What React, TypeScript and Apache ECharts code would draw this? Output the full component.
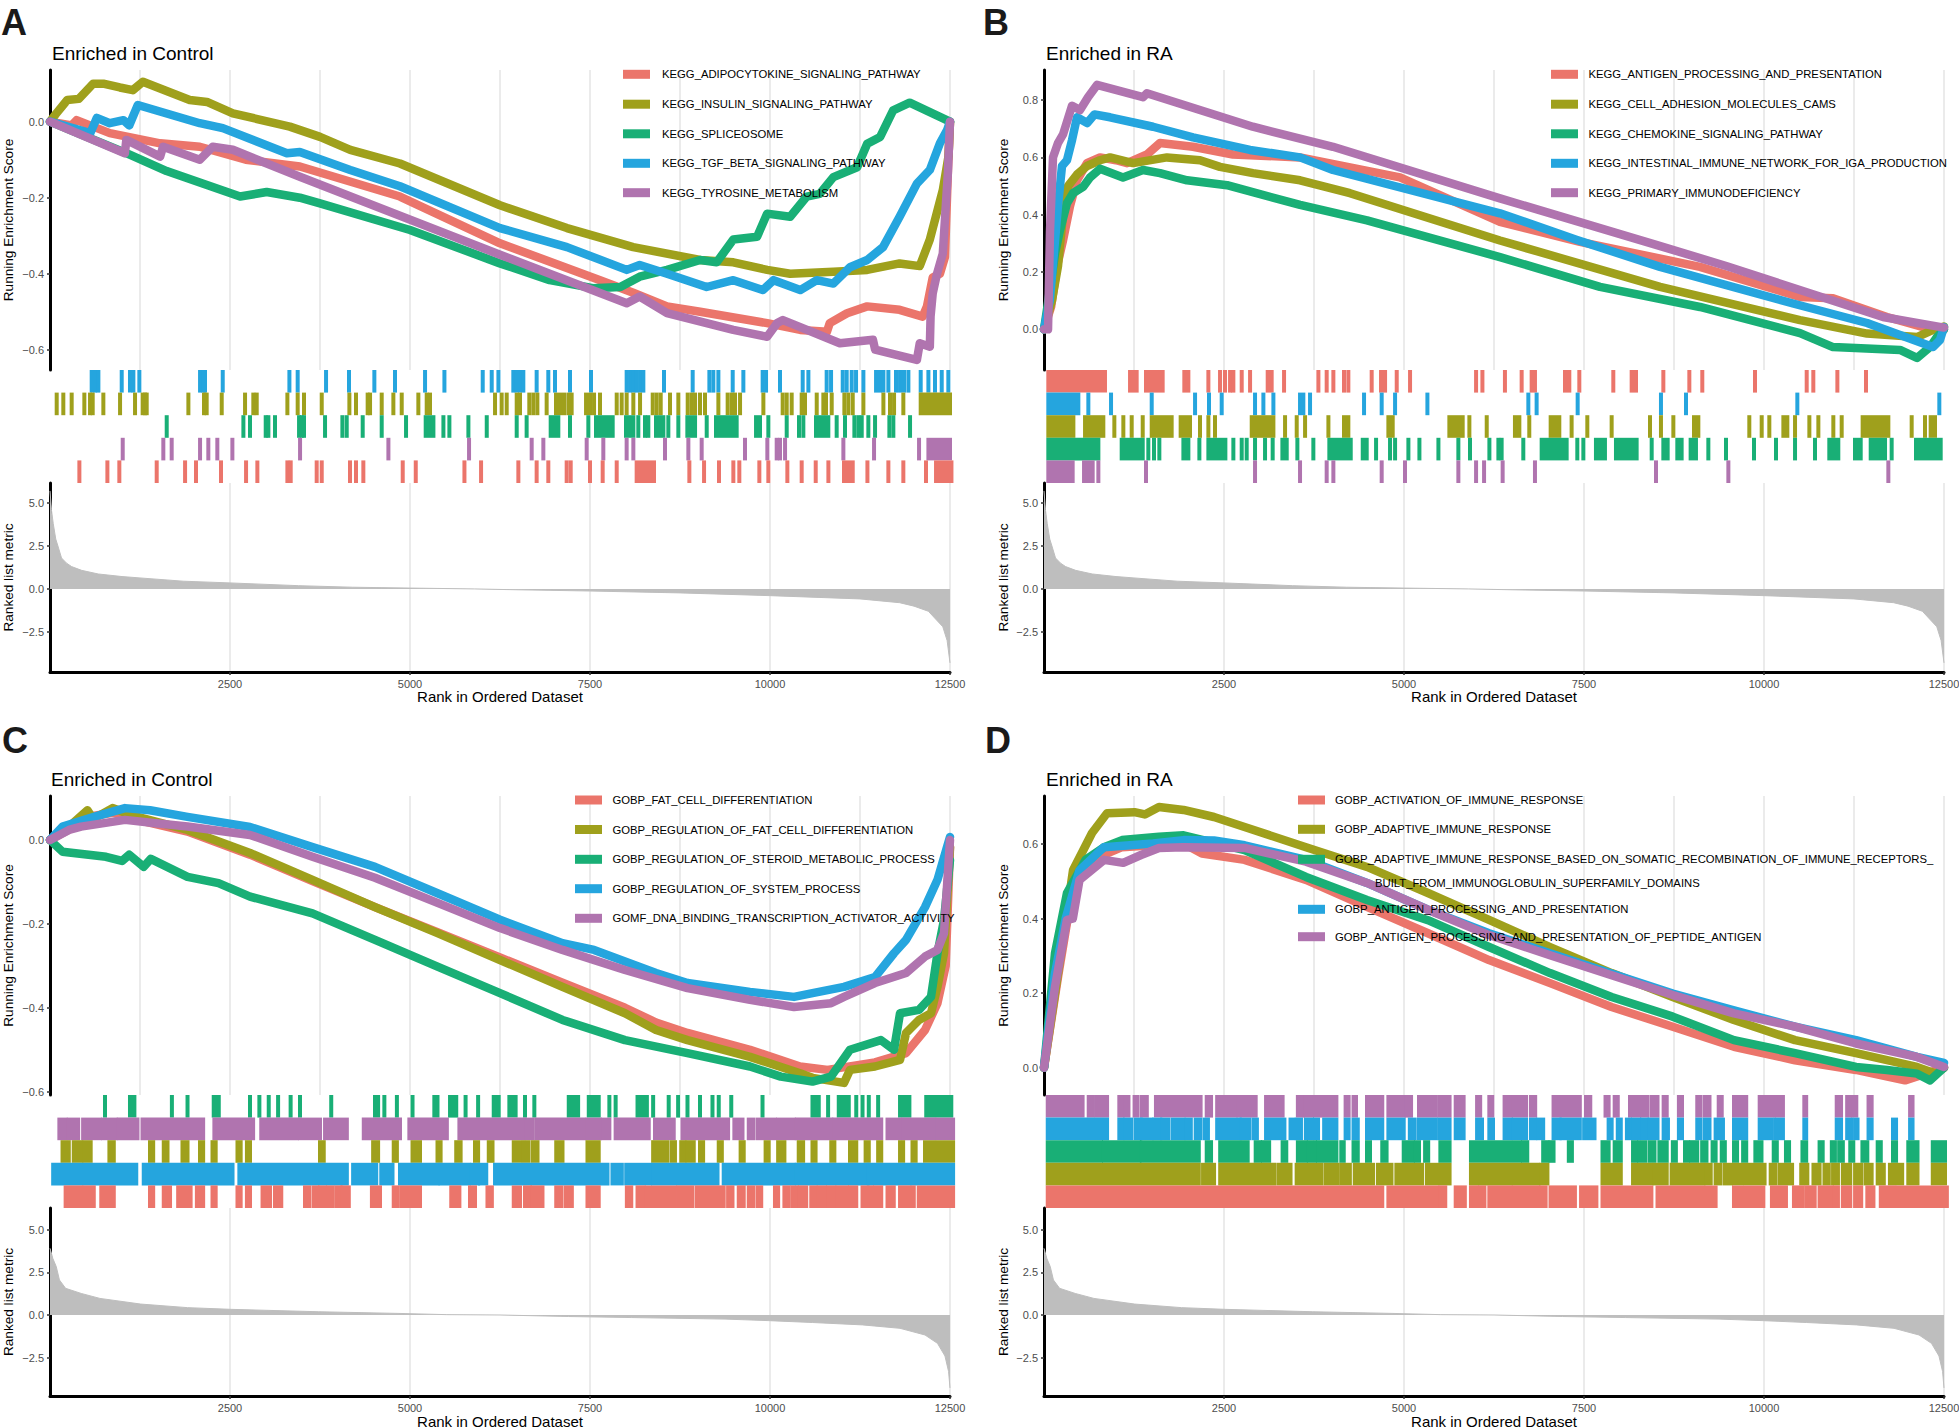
import React, { useEffect, useRef } from "react";
import * as echarts from "echarts";

type Pt = [number, number];
type Hit = number | [number, number];

const FONT = "'Liberation Sans', Arial, Helvetica, sans-serif";
const GENE_COLORS = ["#EB756B", "#9FA01C", "#19AF76", "#25A5DE", "#B074AF"];
const X_LABELS = [2500, 5000, 7500, 10000, 12500];
const RANK_MAX = 12500;
const GRID_STEP = 1250;
const RANK_TICKS = [-2.5, 0, 2.5, 5];

// ---------------- Ranked list metric ----------------
const RANKED_AB: Pt[] = [[0,5.7],[20,4.6],[45,3.8],[80,2.9],[110,2.5],[160,1.8],[230,1.5],[300,1.3],[440,1.08],[670,0.87],[1000,0.72],[1250,0.64],[1850,0.45],[2500,0.35],[3450,0.19],[4200,0.1],[5000,0.05],[5900,0],[6500,-0.05],[7500,-0.12],[8750,-0.23],[10000,-0.39],[11250,-0.58],[11800,-0.8],[12000,-1.0],[12200,-1.3],[12400,-2.2],[12460,-3.0],[12500,-4.3]];
const RANKED_CD: Pt[] = [[0,3.9],[40,3.3],[87,2.83],[131,2.05],[217,1.56],[434,1.26],[694,0.97],[1259,0.64],[1910,0.43],[2517,0.33],[3733,0.19],[4861,0.09],[5512,0.02],[6250,0],[7205,-0.09],[8073,-0.15],[9375,-0.24],[9982,-0.33],[10590,-0.44],[11285,-0.58],[11806,-0.78],[12153,-1.17],[12326,-1.66],[12430,-2.4],[12480,-3.3],[12500,-4.27]];

// ---------------- Panel A ----------------
const A_TITLE = "Enriched in Control";
const A_NAMES = ["KEGG_ADIPOCYTOKINE_SIGNALING_PATHWAY","KEGG_INSULIN_SIGNALING_PATHWAY","KEGG_SPLICEOSOME","KEGG_TGF_BETA_SIGNALING_PATHWAY","KEGG_TYROSINE_METABOLISM"];
const A_Y_TICKS = [-0.6, -0.4, -0.2, 0];
const A_ES_RED: Pt[] = [[0,0],[300,-0.01],[370,0.004],[830,-0.03],[1530,-0.057],[2080,-0.066],[2720,-0.1],[3470,-0.118],[4860,-0.197],[6250,-0.32],[7640,-0.417],[8100,-0.45],[8570,-0.486],[9030,-0.5],[9960,-0.53],[10420,-0.548],[10790,-0.553],[10830,-0.53],[11070,-0.504],[11350,-0.486],[11800,-0.495],[12120,-0.513],[12180,-0.486],[12260,-0.41],[12360,-0.4],[12430,-0.356],[12470,-0.136],[12500,0]];
const A_ES_OLIVE: Pt[] = [[0,0],[80,0.02],[240,0.057],[400,0.06],[600,0.1],[740,0.1],[970,0.09],[1150,0.083],[1290,0.105],[1940,0.057],[2180,0.052],[2540,0.022],[3330,-0.013],[3750,-0.04],[4170,-0.074],[4860,-0.11],[6250,-0.22],[7180,-0.28],[8100,-0.33],[9030,-0.364],[9490,-0.37],[9960,-0.39],[10280,-0.4],[10880,-0.395],[11350,-0.39],[11800,-0.373],[12080,-0.38],[12220,-0.31],[12400,-0.18],[12480,-0.09],[12500,0]];
const A_ES_GREEN: Pt[] = [[0,0],[1060,-0.083],[1620,-0.13],[2640,-0.197],[3010,-0.185],[3470,-0.2],[3750,-0.215],[5000,-0.285],[6250,-0.373],[6940,-0.417],[7540,-0.438],[7920,-0.435],[8190,-0.408],[8570,-0.39],[9030,-0.364],[9260,-0.37],[9490,-0.31],[9820,-0.303],[9960,-0.242],[10280,-0.25],[10510,-0.197],[10690,-0.19],[10880,-0.146],[11210,-0.12],[11350,-0.058],[11530,-0.04],[11710,0.03],[11940,0.05],[12500,0]];
const A_ES_BLUE: Pt[] = [[0,0],[560,-0.03],[650,0.01],[830,-0.004],[1020,0.004],[1100,-0.01],[1220,0.044],[2080,-0.004],[2400,-0.017],[3290,-0.083],[3470,-0.08],[4170,-0.127],[4860,-0.17],[6250,-0.28],[7180,-0.33],[8010,-0.39],[8190,-0.377],[8570,-0.4],[9120,-0.435],[9490,-0.417],[9900,-0.443],[10050,-0.417],[10420,-0.443],[10650,-0.417],[10880,-0.426],[11110,-0.383],[11350,-0.364],[11570,-0.33],[11800,-0.25],[12040,-0.163],[12220,-0.127],[12360,-0.057],[12460,-0.022],[12500,0]];
const A_ES_PURPLE: Pt[] = [[0,0],[1040,-0.083],[1060,-0.048],[1530,-0.092],[1570,-0.066],[2080,-0.1],[2260,-0.066],[2540,-0.074],[3470,-0.145],[6250,-0.35],[8010,-0.478],[8190,-0.46],[8570,-0.504],[9490,-0.548],[9960,-0.566],[10100,-0.53],[10180,-0.522],[10970,-0.583],[11430,-0.574],[11460,-0.6],[12040,-0.627],[12080,-0.583],[12220,-0.592],[12230,-0.513],[12260,-0.452],[12320,-0.4],[12400,-0.347],[12470,-0.136],[12500,0]];
const A_HIT_RED: Hit[] = [408,797,963,1482,1876,2028,2375,2723,2880,3297,3343,3704,3774,4167,4250,4352,4899,5080,5756,5987,6505,6759,6921,7176,7232,7500,7676,7871,[8148,8389],8880,9084,9292,9491,9574,9852,9977,10241,10440,10635,10811,[11028,11149],11353,11644,11852,12167,[12306,12520]];
const A_HIT_OLIVE: Hit[] = [93,185,301,477,556,593,741,973,1181,1287,1320,1343,1922,2139,2176,2385,2709,2824,2871,3297,3440,3528,3774,4158,4250,4412,4445,4607,4769,4885,5116,5232,5278,6181,6273,6343,6482,6528,6657,6713,6769,6898,7028,7083,7139,7199,7245,7445,7500,7556,7639,7871,7940,8009,8102,8195,8371,8426,8482,8611,8727,8857,8912,8959,9028,9097,9283,9412,9468,9514,9584,9908,10176,10232,10301,10440,10486,10649,10741,10778,10857,11033,11088,11149,11297,11575,11667,11723,11852,[12093,12500]];
const A_HIT_GREEN: Hit[] = [1621,2686,2778,2996,3033,3125,3459,3496,3528,3820,4061,4121,4343,4607,4945,[5218,5325],5464,5547,5811,6066,6482,6620,[6954,7060],7222,7477,[7583,7815],[8000,8102],8171,8264,8310,[8417,8519],8588,8727,[8852,8959],9121,[9250,9537],[9806,9861],9977,10232,10403,10463,[10639,10810],10926,11042,11172,11227,11274,11366,11459,11658,11713,11945];
const A_HIT_BLUE: Hit[] = [579,625,672,996,1111,1158,1241,2084,2130,2153,2399,3325,3440,3834,4153,4505,4792,5209,5478,6010,6135,6228,6435,6482,6528,6574,6759,6921,7014,7222,7514,8009,8056,8102,8148,8195,8241,8528,8926,9158,9213,9283,9482,9630,9898,9945,10139,10454,10533,10787,10848,11010,11065,11135,11195,11297,11473,11528,11575,11644,11750,11806,11861,11922,12093,12200,12292,12385,12477];
const A_HIT_PURPLE: Hit[] = [1010,1574,1690,2084,2199,2324,2533,3473,4700,5820,6690,6852,7454,7685,8009,8102,8542,8866,9051,9653,9963,10093,10139,10209,11019,11445,12070,[12200,12500]];

// ---------------- Panel B ----------------
const B_TITLE = "Enriched in RA";
const B_NAMES = ["KEGG_ANTIGEN_PROCESSING_AND_PRESENTATION","KEGG_CELL_ADHESION_MOLECULES_CAMS","KEGG_CHEMOKINE_SIGNALING_PATHWAY","KEGG_INTESTINAL_IMMUNE_NETWORK_FOR_IGA_PRODUCTION","KEGG_PRIMARY_IMMUNODEFICIENCY"];
const B_Y_TICKS = [0, 0.2, 0.4, 0.6, 0.8];
const B_ES_RED: Pt[] = [[0,0],[100,0.08],[181,0.22],[264,0.31],[361,0.43],[458,0.52],[597,0.58],[778,0.6],[1000,0.59],[1153,0.58],[1430,0.61],[1611,0.65],[2069,0.637],[2625,0.61],[3556,0.6],[4944,0.53],[6333,0.375],[7444,0.305],[9111,0.218],[10500,0.113],[10958,0.108],[11708,0.043],[12347,-0.002],[12500,0]];
const B_ES_OLIVE: Pt[] = [[0,0],[110,0.1],[194,0.22],[264,0.4],[333,0.5],[458,0.54],[597,0.57],[778,0.59],[917,0.6],[1236,0.58],[1708,0.6],[2167,0.59],[2444,0.567],[2903,0.545],[3556,0.52],[4250,0.475],[6333,0.31],[8556,0.148],[10500,0.032],[11431,-0.015],[12125,-0.027],[12347,-0.002],[12500,0.01]];
const B_ES_GREEN: Pt[] = [[0,0],[60,0.1],[153,0.265],[222,0.346],[319,0.44],[403,0.475],[542,0.497],[639,0.53],[778,0.56],[1097,0.53],[1375,0.556],[1611,0.545],[1986,0.52],[2542,0.503],[3556,0.434],[4486,0.38],[6333,0.252],[7722,0.148],[9111,0.078],[10500,-0.013],[10958,-0.062],[11889,-0.072],[12125,-0.1],[12306,-0.062],[12403,-0.027],[12500,0]];
const B_ES_BLUE: Pt[] = [[0,0],[80,0.1],[153,0.31],[194,0.43],[250,0.57],[319,0.59],[389,0.66],[458,0.74],[600,0.72],[700,0.75],[917,0.74],[1514,0.707],[2069,0.67],[2861,0.626],[3556,0.6],[4014,0.556],[6333,0.405],[7403,0.312],[8556,0.218],[10403,0.09],[11431,0.022],[12347,-0.062],[12444,-0.037],[12500,0.008]];
const B_ES_PURPLE: Pt[] = [[0,0],[56,0],[83,0.34],[125,0.6],[194,0.65],[264,0.68],[389,0.78],[500,0.765],[611,0.81],[736,0.853],[1375,0.81],[1430,0.824],[2900,0.707],[4014,0.637],[6333,0.457],[8514,0.294],[9486,0.22],[11653,0.043],[12500,0.006]];
const B_HIT_RED: Hit[] = [[60,847],[1195,1287],[1417,1648],[1949,2005],2283,2445,2514,2584,2630,2746,2862,[3107,3162],3334,3811,3926,4019,4167,4227,4551,[4681,4737],4899,5084,6001,6089,6402,6634,[6773,6819],[7236,7296],7435,7907,[8162,8222],8602,8963,9143,9875,10593,10685,11019,11417];
const B_HIT_OLIVE: Hit[] = [[60,408],[570,824],977,1102,1218,1371,[1496,1773],[1898,2028],2167,2283,2375,[2885,3186],3348,3510,3626,3950,[4167,4227],[4783,4843],[5630,5815],5908,6149,[6541,6602],6740,[7037,7157],7328,7546,7884,8417,8569,8741,[9028,9088],9796,9968,10074,[10269,10324],10431,10630,10755,10963,11079,[11370,11727],12051,12236,[12315,12375]];
const B_HIT_GREEN: Hit[] = [[60,755],[1079,1371],1449,1528,1602,[1936,2005],2158,[2283,2519],2630,2746,2815,2931,3070,3176,[3311,3371],3519,3741,[3963,4260],[4427,4482],4612,4806,4876,5061,5214,5478,5755,5917,6186,6311,6356,6657,[6912,7259],7407,7491,[7666,7791],[7944,8231],8440,[8602,8662],[8796,8856],[8981,9055],9227,9472,9861,10167,10431,10708,[10907,11032],[11264,11343],[11482,11681],11773,[12111,12454]];
const B_HIT_BLUE: Hit[] = [[60,477],616,931,1496,2098,2292,2468,2931,3047,3186,[3556,3602],3695,4445,4690,4876,5325,6727,6842,7412,8569,8917,10463,12435];
const B_HIT_PURPLE: Hit[] = [[60,398],[556,676],755,1417,2931,3556,3926,4019,4690,5014,5755,6001,6112,6370,6819,8500,9505,11727];

// ---------------- Panel C ----------------
const C_TITLE = "Enriched in Control";
const C_NAMES = ["GOBP_FAT_CELL_DIFFERENTIATION","GOBP_REGULATION_OF_FAT_CELL_DIFFERENTIATION","GOBP_REGULATION_OF_STEROID_METABOLIC_PROCESS","GOBP_REGULATION_OF_SYSTEM_PROCESS","GOMF_DNA_BINDING_TRANSCRIPTION_ACTIVATOR_ACTIVITY"];
const C_Y_TICKS = [-0.6, -0.4, -0.2, 0];
const C_ES_RED: Pt[] = [[0,0],[264,0.025],[521,0.055],[868,0.065],[1215,0.048],[1910,0.02],[2778,-0.035],[3646,-0.098],[4514,-0.16],[5382,-0.22],[6250,-0.28],[7118,-0.34],[7986,-0.4],[8417,-0.435],[8854,-0.46],[9722,-0.5],[10417,-0.54],[10800,-0.548],[11458,-0.53],[11889,-0.508],[12153,-0.453],[12326,-0.389],[12440,-0.3],[12500,-0.017]];
const C_ES_OLIVE: Pt[] = [[0,0],[264,0.032],[521,0.071],[600,0.05],[868,0.076],[1215,0.055],[1910,0.024],[2778,-0.031],[3646,-0.095],[4514,-0.16],[5382,-0.222],[6250,-0.286],[7118,-0.35],[7986,-0.413],[8417,-0.453],[8854,-0.477],[9722,-0.517],[10417,-0.556],[10590,-0.567],[11028,-0.579],[11111,-0.548],[11458,-0.54],[11806,-0.524],[11889,-0.46],[12069,-0.429],[12236,-0.413],[12326,-0.35],[12417,-0.27],[12500,-0.017]];
const C_ES_GREEN: Pt[] = [[0,0],[174,-0.028],[778,-0.04],[1000,-0.05],[1100,-0.035],[1300,-0.064],[1400,-0.045],[1910,-0.088],[2340,-0.103],[2778,-0.135],[3646,-0.175],[4514,-0.238],[5382,-0.302],[6250,-0.365],[7118,-0.429],[7986,-0.477],[8854,-0.508],[9722,-0.54],[10150,-0.564],[10590,-0.576],[10847,-0.564],[11111,-0.5],[11540,-0.477],[11722,-0.5],[11806,-0.413],[12069,-0.405],[12236,-0.374],[12326,-0.27],[12417,-0.19],[12500,-0.048]];
const C_ES_BLUE: Pt[] = [[0,0],[174,0.032],[611,0.055],[1042,0.076],[1389,0.071],[1910,0.055],[2778,0.031],[3646,-0.017],[4514,-0.064],[5382,-0.127],[6250,-0.19],[7118,-0.246],[7556,-0.262],[8417,-0.317],[8854,-0.341],[9722,-0.362],[10333,-0.374],[10590,-0.365],[11028,-0.35],[11458,-0.327],[11722,-0.27],[11889,-0.238],[12153,-0.16],[12326,-0.095],[12458,-0.017],[12500,0.007]];
const C_ES_PURPLE: Pt[] = [[0,0],[264,0.024],[431,0.032],[1042,0.048],[1472,0.04],[1910,0.032],[2778,0.012],[3646,-0.04],[4514,-0.09],[5382,-0.15],[6250,-0.21],[7118,-0.262],[7986,-0.31],[8854,-0.353],[9722,-0.381],[10333,-0.398],[10847,-0.389],[11028,-0.374],[11458,-0.341],[11889,-0.317],[12153,-0.278],[12326,-0.262],[12417,-0.222],[12500,0]];
const C_HIT_RED: Hit[] = [[217,434],[478,608],[712,886],[1389,1433],[1580,1667],[1780,1953],[2040,2127],[2257,2301],[2604,2648],[2735,2778],[2952,3056],[3125,3212],[3542,3603],[3663,3715],[3750,3820],[3863,3924],[3976,4037],[4063,4150],[4471,4583],[4774,4826],[4878,5139],[5573,5686],[5833,5903],[6076,6137],[6441,6528],[6597,6667],[6701,6840],[7031,7101],[7161,7248],[7465,7621],[8012,8073],[8160,8246],[8290,8680],[8724,8923],[8984,9357],[9418,9479],[9566,9635],[9705,9766],[9826,9878],[10069,10113],[10200,10260],[10312,10373],[10416,10503],[10573,10633],[10677,10764],[10807,10894],[10937,11068],[11111,11198],[11285,11415],[11458,11545],[11632,11719],[11806,11997],[12066,12543]];
const C_HIT_OLIVE: Hit[] = [[174,261],[330,434],[478,565],[825,886],[1389,1433],[1580,1632],[1840,1910],[2083,2127],[2257,2301],[2604,2648],[2735,2778],[3750,3802],[4488,4557],[4774,4818],[5035,5139],[5382,5425],[5642,5703],[5903,5946],[6094,6146],[6441,6528],[6580,6641],[6701,6771],[7031,7118],[7465,7621],[8377,8577],[8637,8680],[8767,8811],[8854,8941],[9028,9071],[9288,9331],[9592,9635],[9939,9982],[10113,10200],[10399,10460],[10590,10633],[10851,10894],[11111,11198],[11328,11372],[11502,11545],[11806,11849],[11979,12023],[12153,12543]];
const C_HIT_GREEN: Hit[] = [764,[1111,1172],1693,1910,[2274,2344],2778,2908,3038,3168,3342,3472,3906,[4514,4557],4644,4818,5035,[5338,5382],[5556,5642],5772,5946,[6163,6232],[6380,6467],6597,6727,[7205,7335],[7483,7621],7769,7856,[8160,8290],8377,8593,8724,8854,9028,9201,9288,9462,9896,[10590,10677],10807,[10955,11094],11198,11285,11372,11502,[11806,11936],[12170,12518]];
const C_HIT_BLUE: Hit[] = [[44,1198],[1302,2535],[2630,4123],[4210,4531],[4601,4757],[4861,5382],[5425,5816],[5859,5946],[5972,6059],[6181,7743],[7812,7942],[8003,8333],[8377,9271],[9357,10330],[10373,11354],[11372,11936],[11979,12543]];
const C_HIT_PURPLE: Hit[] = [[130,217],[261,391],[460,694],[738,912],[955,1215],[1285,2127],[2283,2821],[2934,3429],[3472,3750],[3820,4123],[4358,4861],[4991,5512],[5686,6580],[6623,6701],[6753,7422],[7465,7639],[7682,7769],[7856,8316],[8403,8663],[8784,9418],[9505,9618],[9705,9766],[9826,10069],[10113,10330],[10373,10851],[10894,11545],[11632,11806],[11849,12283],[12326,12543]];

// ---------------- Panel D ----------------
const D_TITLE = "Enriched in RA";
const D_NAMES = ["GOBP_ACTIVATION_OF_IMMUNE_RESPONSE","GOBP_ADAPTIVE_IMMUNE_RESPONSE","GOBP_ADAPTIVE_IMMUNE_RESPONSE_BASED_ON_SOMATIC_RECOMBINATION_OF_IMMUNE_RECEPTORS_\nBUILT_FROM_IMMUNOGLOBULIN_SUPERFAMILY_DOMAINS","GOBP_ANTIGEN_PROCESSING_AND_PRESENTATION","GOBP_ANTIGEN_PROCESSING_AND_PRESENTATION_OF_PEPTIDE_ANTIGEN"];
const D_Y_TICKS = [0, 0.2, 0.4, 0.6];
const D_ES_RED: Pt[] = [[0,0],[200,0.25],[403,0.486],[667,0.558],[1083,0.592],[1514,0.597],[1938,0.602],[2194,0.575],[2786,0.558],[3639,0.504],[4486,0.432],[5333,0.361],[6181,0.289],[7028,0.227],[7883,0.163],[8733,0.11],[9583,0.056],[10431,0.02],[11278,-0.006],[11958,-0.034],[12500,0]];
const D_ES_OLIVE: Pt[] = [[0,0],[236,0.308],[403,0.53],[667,0.63],[875,0.683],[1257,0.686],[1400,0.68],[1597,0.7],[1938,0.692],[2361,0.673],[2786,0.646],[3639,0.592],[4486,0.539],[5333,0.469],[6181,0.397],[7028,0.324],[7883,0.254],[8733,0.19],[9583,0.128],[10431,0.074],[11278,0.039],[12125,0.002],[12389,-0.016],[12500,0]];
const D_ES_GREEN: Pt[] = [[0,0],[153,0.308],[319,0.469],[578,0.558],[833,0.592],[1083,0.611],[1597,0.62],[1938,0.624],[2786,0.584],[3639,0.512],[4486,0.45],[5333,0.396],[6181,0.324],[7028,0.254],[7883,0.19],[8733,0.137],[9583,0.074],[10431,0.039],[11278,0.002],[11708,-0.006],[12125,-0.016],[12306,-0.034],[12500,0]];
const D_ES_BLUE: Pt[] = [[0,0],[150,0.25],[300,0.4],[493,0.53],[833,0.592],[1514,0.602],[1938,0.611],[2361,0.61],[2786,0.597],[3639,0.558],[4486,0.496],[5333,0.424],[6181,0.361],[7028,0.307],[7883,0.253],[8733,0.199],[9583,0.154],[10431,0.11],[11278,0.074],[12125,0.029],[12500,0.013]];
const D_ES_PURPLE: Pt[] = [[0,0],[153,0.217],[319,0.397],[400,0.4],[493,0.504],[833,0.558],[1100,0.55],[1347,0.571],[1597,0.59],[1938,0.592],[2786,0.59],[3639,0.553],[4486,0.496],[5333,0.424],[6181,0.356],[7028,0.302],[7883,0.248],[8733,0.195],[9583,0.146],[10431,0.11],[11278,0.065],[12125,0.029],[12500,0.002]];
const D_HIT_RED: Hit[] = [[52,4698],[4783,5463],[5505,5573],[5718,5845],[5930,6015],[6058,6117],[6185,6482],[6525,6865],[6907,6967],[7035,7374],[7459,7672],[7757,8436],[8521,9328],[9583,9991],[10110,10305],[10416,10534],[10586,10704],[10772,10942],[10985,11027],[11095,11198],[11265,11350],[11435,11520],[11622,11809],[11860,12540]];
const D_HIT_OLIVE: Hit[] = [[52,2150],[2209,2362],[2447,3195],[3254,3424],[3509,3849],[3908,4078],[4129,4248],[4316,4571],[4639,4826],[4894,5251],[5318,5633],[5930,6865],[6907,6992],[7757,8011],[8181,8436],[8479,8649],[8717,9158],[9201,9260],[9328,9396],[9456,9541],[9583,9685],[9736,10008],[10093,10161],[10220,10390],[10517,10602],[10687,10772],[10840,10900],[10959,11027],[11095,11198],[11265,11350],[11410,11495],[11579,11664],[11749,11919],[12004,12132],[12344,12514]];
const D_HIT_GREEN: Hit[] = [[52,791],[833,1326],[1360,2150],[2260,2320],[2447,2829],[2940,3000],[3042,3127],[3314,3365],[3526,3637],[3679,3764],[3806,4061],[4129,4163],[4299,4358],[4486,4528],[4698,4758],[4996,5123],[5166,5208],[5293,5336],[5505,5633],[5930,6610],[6652,6712],[6933,6992],[7035,7077],[7289,7332],[7757,7842],[7926,8011],[8181,8224],[8266,8351],[8411,8479],[8547,8649],[8734,8776],[8903,8946],[8988,9073],[9141,9201],[9286,9328],[9413,9456],[9583,9626],[9710,9753],[9880,9965],[10135,10178],[10305,10348],[10534,10586],[10772,10815],[10942,10985],[11044,11095],[11198,11240],[11367,11435],[11579,11622],[11792,11834],[12004,12132],[12344,12514]];
const D_HIT_BLUE: Hit[] = [[52,876],[1046,1088],[1131,1215],[1275,1343],[1360,1496],[1530,1615],[1640,1725],[1785,1938],[1980,2039],[2107,2175],[2235,2277],[2405,2719],[2745,2855],[2914,2957],[3084,3339],[3424,3467],[3509,3569],[3637,3722],[3764,3806],[3891,4061],[4189,4231],[4299,4358],[4486,4698],[4783,4996],[5081,5149],[5208,5437],[5488,5633],[5718,5828],[6015,6083],[6185,6236],[6397,6482],[6525,6695],[6763,6822],[6865,6933],[7077,7162],[7187,7442],[7502,7646],[7842,7884],[7969,8011],[8096,8139],[8181,8266],[8309,8377],[8411,8521],[8606,8666],[8818,8861],[9073,9116],[9175,9243],[9328,9430],[9583,9753],[9940,10110],[10161,10263],[10560,10586],[11010,11070],[11155,11214],[11265,11299],[11452,11495],[11792,11834],[12029,12063]];
const D_HIT_PURPLE: Hit[] = [[52,536],[621,680],[731,876],[1046,1088],[1131,1173],[1258,1300],[1360,1428],[1555,2175],[2260,2320],[2405,2660],[2702,2940],[3084,3314],[3526,3594],[3637,3722],[3764,4061],[4189,4231],[4299,4333],[4486,4698],[4783,4996],[5038,5098],[5208,5437],[5488,5633],[5718,5828],[6015,6058],[6185,6227],[6397,6482],[6525,6695],[6763,6822],[7077,7442],[7527,7587],[7799,7842],[7926,7969],[8139,8266],[8309,8377],[8436,8521],[8606,8649],[8818,8861],[9073,9116],[9175,9243],[9371,9413],[9583,9753],[9940,10135],[10178,10263],[10560,10586],[11010,11070],[11155,11198],[11240,11282],[11452,11495],[12029,12063]];

interface PanelCfg {
  letter: string; letterX: number; letterY: number;
  title: string; titleX: number; titleY: number;
  left: number; width: number;
  esTop: number; esH: number; hitTop: number; hitH: number; rkTop: number; rkH: number;
  esMin: number; esMax: number; esTicks: number[];
  rkMin: number; rkMax: number;
  names: string[]; es: Pt[][]; hits: Hit[][]; hitOrder: number[]; ranked: Pt[];
  legRectX: number; legTextX: number; legYs: number[]; contX: number; contY: number;
  yTitleX: number; xTitleY: number;
}

const PANELS: PanelCfg[] = [
  {
    letter: "A", letterX: 1, letterY: 22, title: A_TITLE, titleX: 52, titleY: 53,
    left: 50, width: 900, esTop: 70, esH: 300, hitTop: 370, hitH: 113, rkTop: 483, rkH: 189,
    esMin: -0.6534, esMax: 0.136, esTicks: A_Y_TICKS, rkMin: -4.83, rkMax: 6.16,
    names: A_NAMES, es: [A_ES_RED, A_ES_OLIVE, A_ES_GREEN, A_ES_BLUE, A_ES_PURPLE],
    hits: [A_HIT_RED, A_HIT_OLIVE, A_HIT_GREEN, A_HIT_BLUE, A_HIT_PURPLE], hitOrder: [3, 1, 2, 4, 0], ranked: RANKED_AB,
    legRectX: 623, legTextX: 662, legYs: [74.3, 104.2, 133.8, 163.3, 192.7], contX: 0, contY: 0,
    yTitleX: 8.5, xTitleY: 696,
  },
  {
    letter: "B", letterX: 983, letterY: 22, title: B_TITLE, titleX: 1046, titleY: 53,
    left: 1044, width: 900, esTop: 70, esH: 300, hitTop: 370, hitH: 113, rkTop: 483, rkH: 189,
    esMin: -0.142, esMax: 0.905, esTicks: B_Y_TICKS, rkMin: -4.83, rkMax: 6.16,
    names: B_NAMES, es: [B_ES_RED, B_ES_OLIVE, B_ES_GREEN, B_ES_BLUE, B_ES_PURPLE],
    hits: [B_HIT_RED, B_HIT_OLIVE, B_HIT_GREEN, B_HIT_BLUE, B_HIT_PURPLE], hitOrder: [0, 3, 1, 2, 4], ranked: RANKED_AB,
    legRectX: 1551, legTextX: 1588.5, legYs: [74.3, 104.2, 133.8, 163.3, 192.7], contX: 0, contY: 0,
    yTitleX: 1003.5, xTitleY: 696,
  },
  {
    letter: "C", letterX: 2, letterY: 740, title: C_TITLE, titleX: 51, titleY: 779,
    left: 50, width: 900, esTop: 796, esH: 299, hitTop: 1095, hitH: 113, rkTop: 1208, rkH: 188,
    esMin: -0.6079, esMax: 0.1049, esTicks: C_Y_TICKS, rkMin: -4.74, rkMax: 6.26,
    names: C_NAMES, es: [C_ES_RED, C_ES_OLIVE, C_ES_GREEN, C_ES_BLUE, C_ES_PURPLE],
    hits: [C_HIT_RED, C_HIT_OLIVE, C_HIT_GREEN, C_HIT_BLUE, C_HIT_PURPLE], hitOrder: [2, 4, 1, 3, 0], ranked: RANKED_CD,
    legRectX: 575, legTextX: 612.5, legYs: [800, 829.5, 859.3, 888.7, 918.3], contX: 0, contY: 0,
    yTitleX: 8.5, xTitleY: 1421,
  },
  {
    letter: "D", letterX: 985, letterY: 740, title: D_TITLE, titleX: 1046, titleY: 779,
    left: 1044, width: 900, esTop: 796, esH: 299, hitTop: 1095, hitH: 113, rkTop: 1208, rkH: 188,
    esMin: -0.0733, esMax: 0.7294, esTicks: D_Y_TICKS, rkMin: -4.74, rkMax: 6.26,
    names: D_NAMES, es: [D_ES_RED, D_ES_OLIVE, D_ES_GREEN, D_ES_BLUE, D_ES_PURPLE],
    hits: [D_HIT_RED, D_HIT_OLIVE, D_HIT_GREEN, D_HIT_BLUE, D_HIT_PURPLE], hitOrder: [4, 3, 2, 1, 0], ranked: RANKED_CD,
    legRectX: 1298, legTextX: 1335, legYs: [800, 829.3, 859.3, 909.3, 936.7], contX: 1375, contY: 883.3,
    yTitleX: 1003.5, xTitleY: 1421,
  },
];

function fmtY(v: number): string {
  const n = Math.abs(v) < 1e-9 ? 0 : v;
  return n.toFixed(1).replace("-", "\u2212");
}

function buildOption(): any {
  const grid: any[] = [];
  const xAxis: any[] = [];
  const yAxis: any[] = [];
  const series: any[] = [];
  const graphic: any[] = [];
  const tickLabelStyle = { fontSize: 11, color: "#4D4D4D", fontFamily: FONT };
  const splitLine = { show: true, lineStyle: { color: "#EBEBEB", width: 2 } };
  const axisLineStyle = { color: "#000000", width: 3 };
  const tickStyle = { color: "#333333", width: 1.5 };

  PANELS.forEach((p, pi) => {
    const base = pi * 3;
    grid.push({ left: p.left, top: p.esTop, width: p.width, height: p.esH, outerBoundsMode: "none", containLabel: false });
    grid.push({ left: p.left, top: p.hitTop, width: p.width, height: p.hitH, outerBoundsMode: "none", containLabel: false });
    grid.push({ left: p.left, top: p.rkTop, width: p.width, height: p.rkH, outerBoundsMode: "none", containLabel: false });

    const xBase = { type: "value", min: 0, max: RANK_MAX, interval: GRID_STEP };
    xAxis.push({ ...xBase, gridIndex: base, axisLine: { show: false, onZero: false }, axisTick: { show: false }, axisLabel: { show: false }, splitLine });
    xAxis.push({ ...xBase, gridIndex: base + 1, show: false, splitLine: { show: false } });
    xAxis.push({
      ...xBase, gridIndex: base + 2,
      axisLine: { show: true, onZero: false, lineStyle: axisLineStyle },
      axisTick: { show: true, customValues: X_LABELS, length: 3, lineStyle: tickStyle },
      axisLabel: { show: true, customValues: X_LABELS, margin: 6, ...tickLabelStyle, formatter: (v: number) => String(v) },
      splitLine,
    });

    yAxis.push({
      type: "value", gridIndex: base, min: p.esMin, max: p.esMax,
      axisLine: { show: true, onZero: false, lineStyle: axisLineStyle },
      axisTick: { show: true, customValues: p.esTicks, length: 3, lineStyle: tickStyle },
      axisLabel: { show: true, customValues: p.esTicks, margin: 6, ...tickLabelStyle, formatter: fmtY },
      splitLine: { show: false },
    });
    yAxis.push({ type: "value", gridIndex: base + 1, min: 0, max: 5, show: false, splitLine: { show: false } });
    yAxis.push({
      type: "value", gridIndex: base + 2, min: p.rkMin, max: p.rkMax,
      axisLine: { show: true, onZero: false, lineStyle: axisLineStyle },
      axisTick: { show: true, customValues: RANK_TICKS, length: 3, lineStyle: tickStyle },
      axisLabel: { show: true, customValues: RANK_TICKS, margin: 6, ...tickLabelStyle, formatter: fmtY },
      splitLine: { show: false },
    });

    // running enrichment score curves
    p.es.forEach((pts, i) => {
      series.push({
        type: "line", name: p.names[i].replace("\n", ""), xAxisIndex: base, yAxisIndex: base,
        data: pts, symbol: "none", showSymbol: false, silent: true, z: 3 + i,
        lineStyle: { color: GENE_COLORS[i], width: 8.5, cap: "round", join: "round" },
        itemStyle: { color: GENE_COLORS[i] },
      });
    });

    // gene hit rows
    p.hitOrder.forEach((geneIdx, row) => {
      const color = GENE_COLORS[geneIdx];
      const data = p.hits[geneIdx].map((h) => (Array.isArray(h) ? [h[0], h[1], row] : [h, h, row]));
      series.push({
        type: "custom", xAxisIndex: base + 1, yAxisIndex: base + 1, silent: true,
        encode: { x: [0, 1], y: 2 },
        data,
        renderItem: (_params: any, api: any) => {
          const s = api.value(0);
          const e = api.value(1);
          const r = api.value(2);
          const p1 = api.coord([s, 5 - r]);
          const p2 = api.coord([e, 4 - r]);
          return {
            type: "rect",
            shape: { x: p1[0] - 2, y: p1[1], width: p2[0] - p1[0] + 4, height: p2[1] - p1[1] },
            style: { fill: color },
          };
        },
      });
    });

    // ranked list metric
    series.push({
      type: "line", xAxisIndex: base + 2, yAxisIndex: base + 2, data: p.ranked,
      symbol: "none", showSymbol: false, silent: true,
      lineStyle: { color: "#BEBEBE", width: 1 },
      areaStyle: { color: "#BEBEBE", opacity: 1 },
    });

    // texts
    graphic.push({
      type: "text", x: p.letterX, y: p.letterY, z: 100,
      style: { text: p.letter, fontSize: 36, fontWeight: "bold", fontFamily: FONT, fill: "#1A1A1A", textAlign: "left", textVerticalAlign: "middle" },
    });
    graphic.push({
      type: "text", x: p.titleX, y: p.titleY, z: 100,
      style: { text: p.title, fontSize: 19, fontFamily: FONT, fill: "#000000", textAlign: "left", textVerticalAlign: "middle" },
    });
    graphic.push({
      type: "text", x: p.yTitleX, y: p.esTop + p.esH / 2, rotation: Math.PI / 2, z: 100,
      style: { text: "Running Enrichment Score", fontSize: 13.6, fontFamily: FONT, fill: "#000000", textAlign: "center", textVerticalAlign: "middle" },
    });
    graphic.push({
      type: "text", x: p.yTitleX, y: p.rkTop + p.rkH / 2, rotation: Math.PI / 2, z: 100,
      style: { text: "Ranked list metric", fontSize: 13.6, fontFamily: FONT, fill: "#000000", textAlign: "center", textVerticalAlign: "middle" },
    });
    graphic.push({
      type: "text", x: p.left + p.width / 2, y: p.xTitleY, z: 100,
      style: { text: "Rank in Ordered Dataset", fontSize: 15, fontFamily: FONT, fill: "#000000", textAlign: "center", textVerticalAlign: "middle" },
    });

    // legend
    p.names.forEach((nm, i) => {
      const y = p.legYs[i];
      graphic.push({ type: "rect", z: 100, shape: { x: p.legRectX, y: y - 4.5, width: 27, height: 9 }, style: { fill: GENE_COLORS[i] } });
      const parts = nm.split("\n");
      graphic.push({
        type: "text", x: p.legTextX, y, z: 100,
        style: { text: parts[0], fontSize: 11.3, fontFamily: FONT, fill: "#000000", textAlign: "left", textVerticalAlign: "middle" },
      });
      if (parts.length > 1) {
        graphic.push({
          type: "text", x: p.contX, y: p.contY, z: 100,
          style: { text: parts[1], fontSize: 11.3, fontFamily: FONT, fill: "#000000", textAlign: "left", textVerticalAlign: "middle" },
        });
      }
    });
  });

  return { animation: false, backgroundColor: "#ffffff", grid, xAxis, yAxis, series, graphic };
}

export default function App() {
  const ref = useRef<HTMLDivElement>(null);
  useEffect(() => {
    if (!ref.current) return;
    const chart = echarts.init(ref.current, null, { renderer: "svg" });
    chart.setOption(buildOption());
    return () => chart.dispose();
  }, []);
  return <div ref={ref} style={{ position: "absolute", left: 0, top: 0, width: 1959, height: 1428, background: "#fff" }} />;
}
